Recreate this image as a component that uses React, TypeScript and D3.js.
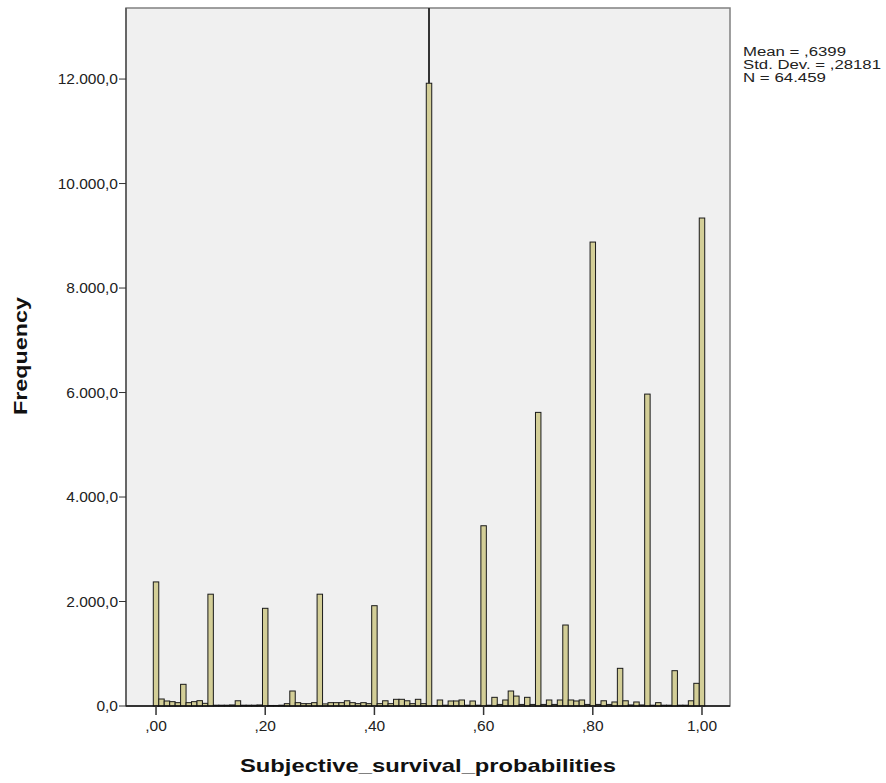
import React from "react";
import * as d3 from "d3";

const binCenters: number[] = [
  0.0, 0.01, 0.02, 0.03, 0.04, 0.05, 0.06, 0.07, 0.08, 0.09,
  0.1, 0.11, 0.12, 0.13, 0.14, 0.15, 0.16, 0.17, 0.18, 0.19,
  0.2, 0.21, 0.22, 0.23, 0.24, 0.25, 0.26, 0.27, 0.28, 0.29,
  0.3, 0.31, 0.32, 0.33, 0.34, 0.35, 0.36, 0.37, 0.38, 0.39,
  0.4, 0.41, 0.42, 0.43, 0.44, 0.45, 0.46, 0.47, 0.48, 0.49,
  0.5, 0.51, 0.52, 0.53, 0.54, 0.55, 0.56, 0.57, 0.58, 0.59,
  0.6, 0.61, 0.62, 0.63, 0.64, 0.65, 0.66, 0.67, 0.68, 0.69,
  0.7, 0.71, 0.72, 0.73, 0.74, 0.75, 0.76, 0.77, 0.78, 0.79,
  0.8, 0.81, 0.82, 0.83, 0.84, 0.85, 0.86, 0.87, 0.88, 0.89,
  0.9, 0.91, 0.92, 0.93, 0.94, 0.95, 0.96, 0.97, 0.98, 0.99,
  1.0,
];

const frequencies: number[] = [
  2375, 134, 96, 83, 64, 415, 64, 83, 102, 51,
  2140, 15, 15, 15, 20, 100, 15, 15, 15, 20,
  1870, 10, 10, 15, 45, 287, 64, 45, 45, 64,
  2140, 40, 64, 64, 64, 100, 64, 45, 64, 45,
  1920, 45, 100, 45, 128, 128, 100, 45, 128, 45,
  11920, 10, 115, 15, 96, 96, 115, 15, 96, 15,
  3450, 15, 166, 30, 115, 287, 190, 30, 166, 30,
  5620, 30, 115, 30, 115, 1550, 115, 96, 115, 30,
  8880, 30, 100, 30, 77, 721, 100, 20, 77, 20,
  5970, 15, 64, 15, 15, 676, 15, 15, 100, 434,
  9340,
];

const xTickValues: number[] = [0, 0.2, 0.4, 0.6, 0.8, 1.0];
const xTickLabels: string[] = [",00", ",20", ",40", ",60", ",80", "1,00"];
const yTickValues: number[] = [0, 2000, 4000, 6000, 8000, 10000, 12000];
const yTickLabels: string[] = ["0,0", "2.000,0", "4.000,0", "6.000,0", "8.000,0", "10.000,0", "12.000,0"];
const statsLines: string[] = ["Mean = ,6399", "Std. Dev. = ,28181", "N = 64.459"];
const statsWidths: number[] = [103, 138, 83];
const xTitle = "Subjective_survival_probabilities";
const yTitle = "Frequency";
const binWidth = 0.01;
const highlightValue = 0.5;

export default function App() {
  const W = 886;
  const H = 783;
  const left = 126;
  const right = 730;
  const top = 8;
  const bottom = 706;

  const x = d3.scaleLinear().domain([-0.055, 1.0513]).range([left, right]);
  const y = d3.scaleLinear().domain([0, 13360]).range([bottom, top]);

  const font = "'Liberation Sans', Arial, sans-serif";
  const hiIdx = binCenters.indexOf(highlightValue);

  return (
    <svg width={W} height={H} style={{ position: "absolute", left: 0, top: 0, background: "#fff" }}>
      <rect x={left} y={top} width={right - left} height={bottom - top} fill="#f0f0f0" stroke="#808080" strokeWidth={1.5} />
      {binCenters.map((c, i) => {
        const x0 = x(c - binWidth / 2);
        const x1 = x(c + binWidth / 2);
        const yy = y(frequencies[i]);
        return (
          <rect
            key={i}
            x={x0}
            y={yy}
            width={x1 - x0}
            height={bottom - yy}
            fill="#d3ce97"
            stroke="#1a1a1a"
            strokeWidth={1}
          />
        );
      })}
      {hiIdx >= 0 && (
        <line
          x1={x(highlightValue)}
          x2={x(highlightValue)}
          y1={top}
          y2={y(frequencies[hiIdx])}
          stroke="#333"
          strokeWidth={2}
        />
      )}
      <line x1={left} x2={left} y1={top} y2={bottom} stroke="#555" strokeWidth={1.5} />
      <line x1={left} x2={right} y1={bottom} y2={bottom} stroke="#111" strokeWidth={1.5} />
      {yTickValues.map((v, i) => (
        <g key={"y" + i}>
          <line x1={left - 7} x2={left} y1={y(v)} y2={y(v)} stroke="#333" strokeWidth={1} />
          <text x={left - 8} y={y(v)} dy="0.35em" textAnchor="end" fontFamily={font} fontSize={15.5} fill="#222">
            {yTickLabels[i]}
          </text>
        </g>
      ))}
      {xTickValues.map((v, i) => (
        <g key={"x" + i}>
          <line x1={x(v)} x2={x(v)} y1={bottom} y2={bottom + 9} stroke="#333" strokeWidth={1.5} />
          <text x={x(v)} y={bottom + 20} dy="0.35em" textAnchor="middle" fontFamily={font} fontSize={15.5} fill="#222">
            {xTickLabels[i]}
          </text>
        </g>
      ))}
      <text
        x={(left + right) / 2}
        y={765}
        dy="0.35em"
        textAnchor="middle"
        fontFamily={font}
        fontSize={19}
        fontWeight="bold"
        fill="#111"
        textLength={376}
        lengthAdjust="spacingAndGlyphs"
      >
        {xTitle}
      </text>
      <text
        transform={`translate(20, 356) rotate(-90)`}
        dy="0.35em"
        textAnchor="middle"
        fontFamily={font}
        fontSize={19}
        fontWeight="bold"
        fill="#111"
        textLength={118}
        lengthAdjust="spacingAndGlyphs"
      >
        {yTitle}
      </text>
      {statsLines.map((s, i) => (
        <text
          key={"s" + i}
          x={743}
          y={55.5 + i * 13}
          fontFamily={font}
          fontSize={12.5}
          fill="#222"
          textLength={statsWidths[i]}
          lengthAdjust="spacingAndGlyphs"
        >
          {s}
        </text>
      ))}
    </svg>
  );
}
